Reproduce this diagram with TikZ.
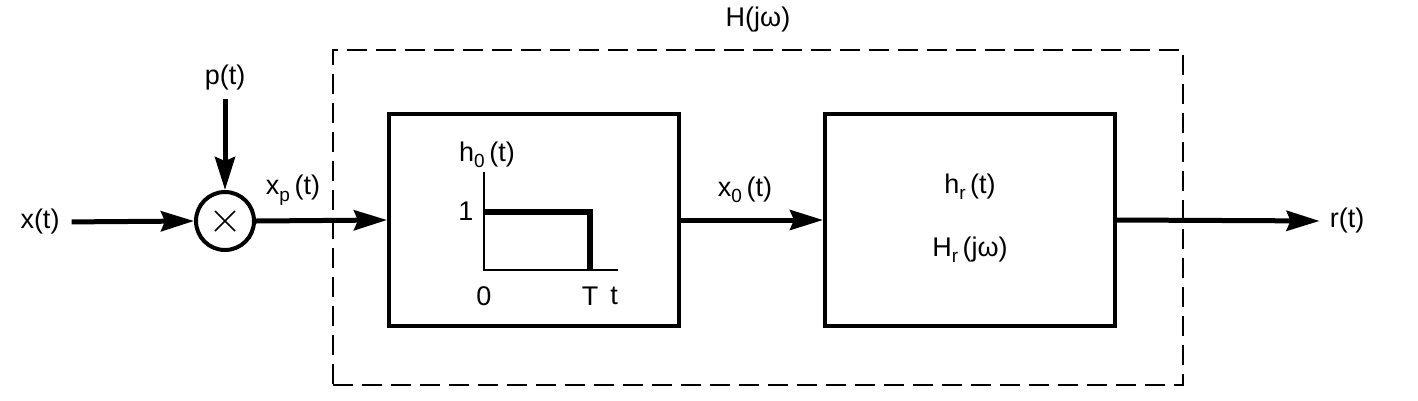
\documentclass[tikz,border=0pt]{standalone}
\usepackage{fontspec}
\setmainfont{Liberation Sans}
\usetikzlibrary{arrows.meta}
\newcommand\sbs[1]{\raisebox{-0.45ex}{\fontsize{19}{19}\selectfont #1}}
\begin{document}
\begin{tikzpicture}[x=1pt,y=-1pt,
  lbl/.style={font=\fontsize{27}{31}\selectfont, inner sep=0pt},
  blk/.style={draw, line width=4pt, minimum width=290pt, minimum height=212pt, inner sep=0pt},
  sig/.style={line width=5pt, -{Stealth[length=33pt,width=20pt,inset=4pt]}},
  ax/.style={line width=2.2pt},
  pulse/.style={line width=5.5pt},
  grp/.style={draw, line width=2pt, dash pattern=on 20pt off 9pt}]
\useasboundingbox (0,0) rectangle (1418,400);
\fill[white] (0,0) rectangle (1418,400);
% group box
\node[grp, minimum width=850pt, minimum height=335pt, inner sep=0pt] (grp) at (758,217.5) {};
\node[lbl] (H) at (758,20) {H(jω)};
% blocks
\node[blk] (b1) at (534,220) {};
\node[blk] (b2) at (970,220) {};
% multiplier
\node[draw, circle, line width=4pt, minimum size=58pt, inner sep=0pt] (m) at (225,221) {};
\draw[line width=1.6pt] (m.center) ++(-10,-10) -- ++(20,20);
\draw[line width=1.6pt] (m.center) ++(-10,10) -- ++(20,-20);
% labels
\node[lbl] (x) at (40,222) {x(t)};
\node[lbl] (p) at (225,78) {p(t)};
\node[lbl] (xp) at (293,190) {x\sbs{p}\,(t)};
\node[lbl] (x0) at (745,190) {x\sbs{0}\,(t)};
\node[lbl] (r) at (1347,221) {r(t)};
\node[lbl] (hr) at (970,187) {h\sbs{r}\,(t)};
\node[lbl] (Hr) at (970,250) {H\sbs{r}\,(jω)};
% connectors
\draw[sig, shorten <=12pt] (x.east) -- (m.west);
\draw[sig, shorten <=8pt] (p.south) -- (m.north);
\draw[sig] (m.east) -- (b1.west);
\draw[sig] (b1.east) -- (b2.west);
\draw[sig, shorten >=10pt] (b2.east) -- (r.west);
% inner plot
\coordinate (o) at (484,270);
\coordinate (ytop) at (484,172);
\coordinate (xend) at (618,270);
\coordinate (p1) at (484,212);
\coordinate (p2) at (590,212);
\coordinate (p3) at (590,270);
\draw[ax] (ytop) -- (o) -- (xend);
\draw[pulse] (p1) -- (p2) -- (p3);
\node[lbl] (one) at (466,211) {1};
\node[lbl] (h0) at (487,155) {h\sbs{0}\,(t)};
\node[lbl] (zero) at (484,296) {0};
\node[lbl] (T) at (590,296) {T};
\node[lbl] (t) at (614,296) {t};
\end{tikzpicture}
\end{document}
